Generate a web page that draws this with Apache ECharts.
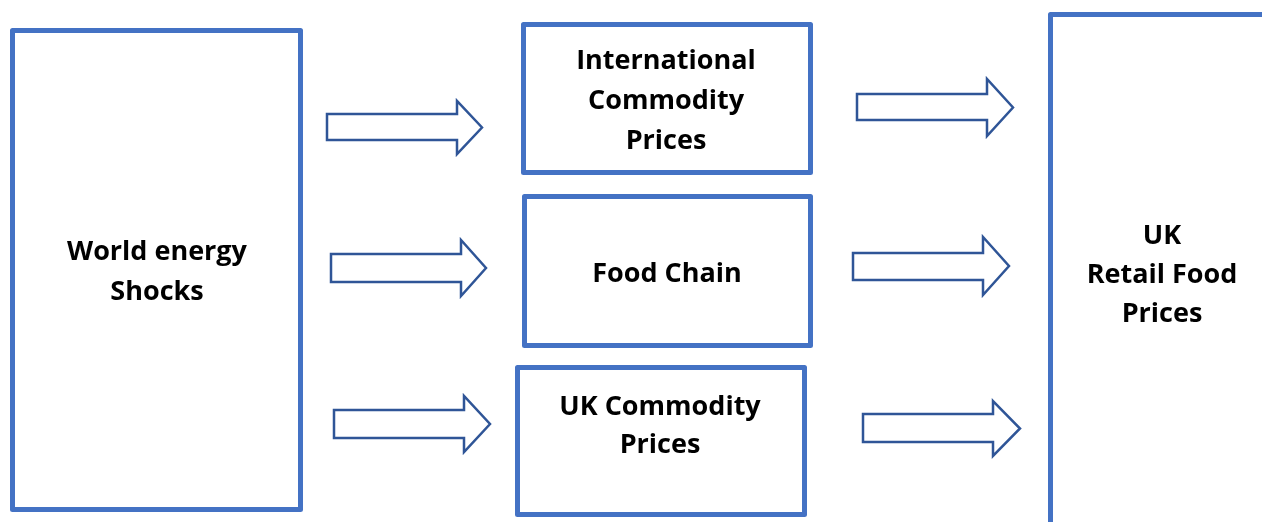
<!DOCTYPE html>
<html>
<head>
<meta charset="utf-8">
<script src="https://cdn.jsdelivr.net/npm/echarts@6/dist/echarts.min.js"></script>
<style>
html,body{margin:0;padding:0;background:#fff;}
#c{width:1262px;height:522px;}
</style>
</head>
<body>
<div id="c"></div>
<script>
// Diagram units (one unit = one pixel of the reference picture)
var boxLabels = ['World energy\nShocks', 'International\nCommodity\nPrices', 'Food Chain', 'UK Commodity\nPrices', 'UK\nRetail Food\nPrices'];
var boxX0 = [12.5, 523.5, 524.5, 517.5, 1050.5];
var boxY0 = [30.5, 24.5, 196.5, 367.5, 14.5];
var boxX1 = [300.5, 810.5, 810.5, 804.5, 1275];
var boxY1 = [509.5, 172.5, 345.5, 514.5, 535];
var labelX = [157, 666, 667, 660, 1162];
var labelY = [272, 101, 274, 426, 275];
var labelLineHeight = [40, 40, 40, 38, 39];

var arrowX0 = [327, 331, 334, 857, 853, 863];
var arrowHeadX = [457, 461, 464, 987, 983, 993];
var arrowTipX = [482, 486, 490, 1013, 1009, 1020];
var arrowBodyTop = [114, 254, 410, 94, 253, 414];
var arrowBodyBot = [140, 282, 438, 120, 280, 442];
var arrowHeadTop = [101, 240, 396, 79, 237, 401];
var arrowHeadBot = [154, 296, 452, 136, 295, 456];

var boxData = boxX0.map(function (v, i) { return [v, boxY0[i], boxX1[i], boxY1[i]]; });
var labelData = labelX.map(function (v, i) { return [v, labelY[i], i]; });
var arrowData = arrowX0.map(function (v, i) {
  return [v, arrowHeadX[i], arrowTipX[i], arrowBodyTop[i], arrowBodyBot[i], arrowHeadTop[i], arrowHeadBot[i]];
});

var chart = echarts.init(document.getElementById('c'), null, {renderer: 'canvas'});
chart.setOption({
  backgroundColor: '#ffffff',
  animation: false,
  grid: {left: 0, right: 0, top: 0, bottom: 0},
  xAxis: {type: 'value', min: 0, max: 1262, show: false},
  yAxis: {type: 'value', min: 0, max: 522, inverse: true, show: false},
  series: [
    {
      type: 'custom',
      clip: false,
      data: boxData,
      renderItem: function (params, api) {
        var p0 = api.coord([api.value(0), api.value(1)]);
        var p1 = api.coord([api.value(2), api.value(3)]);
        return {
          type: 'rect',
          shape: {x: p0[0], y: p0[1], width: p1[0] - p0[0], height: p1[1] - p0[1]},
          style: {fill: 'none', stroke: '#4472C4', lineWidth: 5, lineJoin: 'round'}
        };
      }
    },
    {
      type: 'custom',
      clip: false,
      data: arrowData,
      renderItem: function (params, api) {
        var x0 = api.value(0), hx = api.value(1), tx = api.value(2);
        var bt = api.value(3), bb = api.value(4), ht = api.value(5), hb = api.value(6);
        var my = (ht + hb) / 2;
        var pts = [[x0, bt], [hx, bt], [hx, ht], [tx, my], [hx, hb], [hx, bb], [x0, bb]].map(function (p) { return api.coord(p); });
        return {
          type: 'polygon',
          shape: {points: pts},
          style: {fill: '#ffffff', stroke: '#2F5597', lineWidth: 2.5, lineJoin: 'miter'}
        };
      }
    },
    {
      type: 'custom',
      clip: false,
      data: labelData,
      renderItem: function (params, api) {
        var i = api.value(2);
        var p = api.coord([api.value(0), api.value(1)]);
        return {
          type: 'text',
          style: {
            text: boxLabels[i],
            x: p[0], y: p[1],
            fill: '#000000',
            font: 'bold 27px "Open Sans"',
            align: 'center',
            verticalAlign: 'middle',
            lineHeight: labelLineHeight[i]
          }
        };
      }
    }
  ]
});
</script>
</body>
</html>
